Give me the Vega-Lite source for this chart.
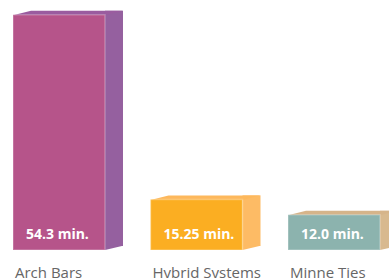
{
  "$schema": "https://vega.github.io/schema/vega-lite/v6.json",
  "autosize": "none",
  "width": 367,
  "height": 250,
  "padding": {"left": 13, "top": 0, "right": 9, "bottom": 28},
  "background": "#ffffff",
  "config": {"view": {"stroke": null}},
  "data": {
    "values": [
      {"cat": "Arch Bars", "v": 54.3, "label": "54.3 min."},
      {"cat": "Hybrid Systems", "v": 15.25, "label": "15.25 min."},
      {"cat": "Minne Ties", "v": 12.0, "label": "12.0 min."}
    ]
  },
  "encoding": {
    "x": {"field": "cat", "type": "nominal", "sort": null, "axis": null,
          "scale": {"paddingInner": 0.331, "paddingOuter": 0}},
    "y": {"field": "v", "type": "quantitative", "axis": null,
          "scale": {"domain": [4.55, 57.4], "zero": false, "nice": false}}
  },
  "layer": [
    {
      "mark": {"type": "bar", "width": 18, "xOffset": 55, "yOffset": -4, "y2Offset": -4},
      "encoding": {
        "y2": {"datum": 4.55},
        "color": {"field": "cat", "type": "nominal", "legend": null,
                  "scale": {"domain": ["Arch Bars", "Hybrid Systems", "Minne Ties"], "range": ["#95609F", "#FDBB65", "#D8B98F"]}}
      }
    },
    {
      "mark": {"type": "point", "filled": true, "opacity": 1, "size": 4, "strokeWidth": 0,
               "shape": "M46,0 L64,-4.2 L46,-4.2 Z"},
      "encoding": {
        "y": {"datum": 4.55},
        "color": {"field": "cat", "type": "nominal", "legend": null,
                  "scale": {"domain": ["Arch Bars", "Hybrid Systems", "Minne Ties"], "range": ["#95609F", "#FDBB65", "#D8B98F"]}}
      }
    },
    {
      "mark": {"type": "point", "filled": true, "opacity": 1, "size": 4, "strokeWidth": 0,
               "shape": "M-46,0.5 L-28,-4 L64,-4 L46,0.5 Z"},
      "encoding": {
        "color": {"field": "cat", "type": "nominal", "legend": null,
                  "scale": {"domain": ["Arch Bars", "Hybrid Systems", "Minne Ties"], "range": ["#9A5C9F", "#FDB85C", "#D6B48A"]}}
      }
    },
    {
      "mark": {"type": "bar", "stroke": "#ffffff", "strokeOpacity": 0.25, "strokeWidth": 1.5},
      "encoding": {
        "y2": {"datum": 4.55},
        "color": {"field": "cat", "type": "nominal", "legend": null,
                  "scale": {"domain": ["Arch Bars", "Hybrid Systems", "Minne Ties"], "range": ["#B6548A", "#FBAE22", "#8CB3AE"]}}
      }
    },
    {
      "mark": {"type": "text", "align": "left", "baseline": "alphabetic", "dx": -33, "dy": -11,
               "font": "Open Sans", "fontWeight": "bold", "fontSize": 14, "color": "#ffffff"},
      "encoding": {
        "y": {"datum": 4.55},
        "text": {"field": "label"}
      }
    },
    {
      "mark": {"type": "text", "align": "left", "baseline": "alphabetic", "dx": -44, "dy": 28,
               "font": "Open Sans", "fontSize": 15, "color": "#666666"},
      "encoding": {
        "y": {"datum": 4.55},
        "text": {"field": "cat"}
      }
    }
  ],
  "resolve": {"scale": {"color": "independent"}}
}
